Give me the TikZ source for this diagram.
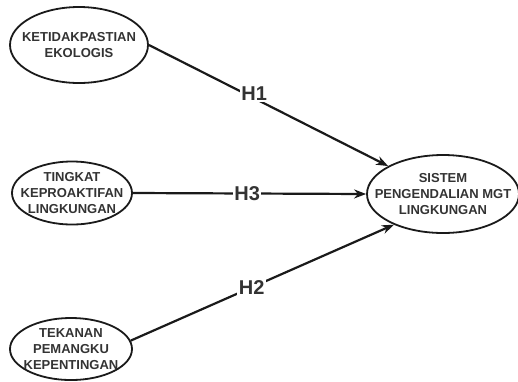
\documentclass[tikz,border=0pt]{standalone}
\usepackage{fontspec}
\setmainfont{Liberation Sans}[BoldFont={Liberation Sans Bold}]
\usetikzlibrary{positioning,arrows.meta,shapes.geometric}
\definecolor{inkgray}{HTML}{333333}
\definecolor{linegray}{HTML}{1A1A1A}

\begin{document}
\begin{tikzpicture}[x=1pt, y=-1pt, >={Stealth[length=12pt, width=9pt]},
    oval/.style={ellipse, draw=linegray, line width=1.8pt, inner sep=0pt},
    ovaltext/.style={font=\bfseries\fontsize{13}{16}\selectfont, text=inkgray, align=center},
    hyp/.style={font=\bfseries\fontsize{20}{22}\selectfont, text=inkgray, fill=white, inner sep=1.5pt},
    link/.style={draw=linegray, line width=2.2pt}]
    \useasboundingbox (0,0) rectangle (518,381);

    % Constructs
    \node[oval, minimum width=138pt, minimum height=76pt] (eko) at (79,45) {};
    \node[ovaltext] at (eko) {KETIDAKPASTIAN\\EKOLOGIS};

    \node[oval, minimum width=120pt, minimum height=63pt] (pro) at (72,193) {};
    \node[ovaltext] at (pro) {TINGKAT\\KEPROAKTIFAN\\LINGKUNGAN};

    \node[oval, minimum width=122pt, minimum height=62pt] (teka) at (71,349) {};
    \node[ovaltext] at (teka) {TEKANAN\\PEMANGKU\\KEPENTINGAN};

    \node[oval, minimum width=152pt, minimum height=78pt] (sis) at (443,194) {};
    \node[ovaltext] at (sis) {SISTEM\\PENGENDALIAN MGT\\LINGKUNGAN};

    % Hypotheses
    \draw[link, ->] (eko.east) -- node[hyp, pos=0.44, yshift=5pt] (h1) {H1} (sis.153);
    \draw[link, ->] (pro.east) -- node[hyp, pos=0.49] (h3) {H3} (sis.west);
    \draw[link, ->] (teka.8) -- node[hyp, pos=0.46] (h2) {H2} (sis.212);
\end{tikzpicture}
\end{document}
